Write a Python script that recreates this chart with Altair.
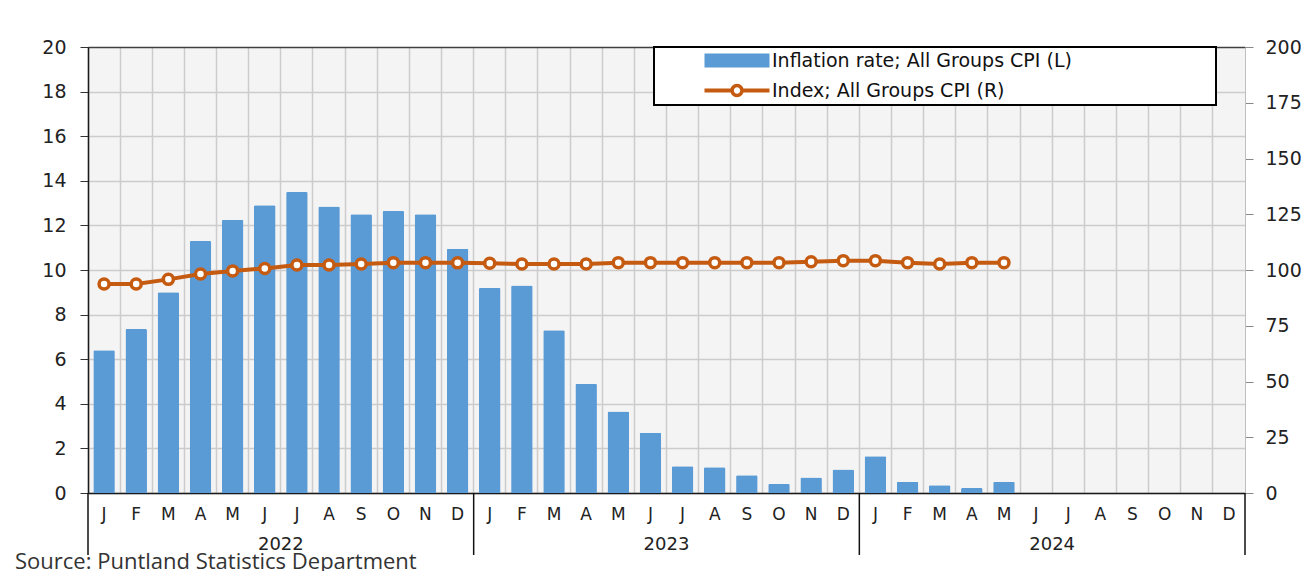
import altair as alt
import pandas as pd

# ---------------- data ----------------
years = ["2022", "2023", "2024"]
month_letters = ["J", "F", "M", "A", "M", "J", "J", "A", "S", "O", "N", "D"]

inflation_rate = [6.4, 7.35, 9.0, 11.3, 12.25, 12.9, 13.5, 12.85, 12.5, 12.65, 12.5, 10.95,
                  9.2, 9.3, 7.3, 4.9, 3.65, 2.7, 1.2, 1.15, 0.8, 0.4, 0.7, 1.05,
                  1.65, 0.5, 0.35, 0.22, 0.5]
cpi_index = [93.7, 93.7, 95.8, 98.2, 99.6, 100.7, 102.2, 102.2, 102.7, 103.3, 103.3, 103.2,
             103.0, 102.7, 102.7, 102.7, 103.3, 103.3, 103.3, 103.3, 103.3, 103.3, 103.7, 104.2,
             104.2, 103.3, 102.7, 103.3, 103.3]
series_names = ["Inflation rate; All Groups CPI (L)", "Index; All Groups CPI (R)"]
source_note = "Source: Puntland Statistics Department"
left_ticks = list(range(0, 21, 2))
right_ticks = list(range(0, 201, 25))

BLUE = "#5B9BD5"
ORANGE = "#C55A11"
FONT = "DejaVu Sans"

keys = [f"{y}-{m:02d}" for y in years for m in range(1, 13)]
bars_df = pd.DataFrame({"key": keys[:len(inflation_rate)], "rate": inflation_rate})
line_df = pd.DataFrame({"key": keys[:len(cpi_index)], "cpi": cpi_index})
legend_df = pd.DataFrame({"series": series_names})
sep_start_df = pd.DataFrame({"key": [f"{y}-01" for y in years]})
sep_end_df = pd.DataFrame({"key": [keys[-1]]})
year_lab_df = pd.DataFrame({"key": [f"{y}-07" for y in years], "year": years})

W, H = 1157, 446

month_expr = "[" + ",".join(f"'{m}'" for m in month_letters) + "][toNumber(slice(datum.value, 5)) - 1]"
month_scale = alt.Scale(domain=keys, paddingInner=0, paddingOuter=0)

# legend symbol shapes, unit = 7 px (symbolSize 196)
rect_path = "M-8.286,-1H1V1H-8.286Z"
line_path = ("M-8.286,-0.29H-4.45V0.29H-8.286Z M-2.83,-0.29H1V0.29H-2.83Z "
             "M-4.6,0A0.96,0.96 0 1,1 -2.68,0A0.96,0.96 0 1,1 -4.6,0Z "
             "M-4.09,0A0.45,0.45 0 1,0 -3.19,0A0.45,0.45 0 1,0 -4.09,0Z")
blank_pad = "\u2800" * 10  # blank glyphs that widen the legend box
legend_label_expr = "datum.label + '" + blank_pad + "'"

bars = alt.Chart(bars_df).mark_bar(
    color=BLUE, width=alt.RelativeBandSize(0.67),
    cornerRadiusTopLeft=1.5, cornerRadiusTopRight=1.5
).encode(
    x=alt.X("key:O", scale=month_scale, title=None,
            axis=alt.Axis(title=None, orient="bottom", labelExpr=month_expr, labelAngle=0,
                          grid=True, bandPosition=0, ticks=False,
                          domainColor="#1a1a1a", domainWidth=1.5, labelFontSize=17,
                          labelPadding=13)),
    y=alt.Y("rate:Q", scale=alt.Scale(domain=[0, 20], nice=False),
            axis=alt.Axis(title=None, orient="left", values=left_ticks, grid=True,
                          gridColor={"condition": {"test": "datum.value >= 20", "value": "#404040"},
                                     "value": "#CCCCCC"},
                          tickSize=8, tickColor="#333", labelPadding=14, labelFontSize=19,
                          domainColor="#1a1a1a", domainWidth=1.5)),
)

line = alt.Chart(line_df).mark_line(
    color=ORANGE, strokeWidth=4,
    point=alt.OverlayMarkDef(filled=True, fill="white", stroke=ORANGE, strokeWidth=3.5,
                             size=100, opacity=1)
).encode(
    x=alt.X("key:O", scale=month_scale, title=None),
    y=alt.Y("cpi:Q", scale=alt.Scale(domain=[0, 200], nice=False),
            axis=alt.Axis(title=None, orient="right", values=right_ticks, grid=False,
                          tickSize=8, tickColor="#888", labelPadding=12, labelFontSize=19,
                          domainColor="#BFBFBF", domainWidth=1)),
)

seps_start = alt.Chart(sep_start_df).mark_rule(color="#111111", strokeWidth=1.5).encode(
    x=alt.X("key:O", scale=month_scale, title=None, bandPosition=0),
    y=alt.value(H),
    y2=alt.value(H + 62),
)
seps_end = alt.Chart(sep_end_df).mark_rule(color="#111111", strokeWidth=1.5).encode(
    x=alt.X("key:O", scale=month_scale, title=None, bandPosition=1),
    y=alt.value(H),
    y2=alt.value(H + 62),
)

year_text = alt.Chart(year_lab_df).mark_text(
    font=FONT, fontSize=18, color="#222222", baseline="middle", align="center"
).encode(
    x=alt.X("key:O", scale=month_scale, title=None, bandPosition=0),
    y=alt.value(H + 52),
    text="year:N",
)

leg = alt.Legend(title=None, orient="none", legendX=566, legendY=0,
                 symbolSize=196, symbolStrokeWidth=0, symbolOpacity=1,
                 labelFont=FONT, labelFontSize=19, labelColor="#111",
                 labelExpr=legend_label_expr,
                 padding=4, symbolOffset=95, labelOffset=0, labelLimit=900,
                 fillColor="white", strokeColor="black", rowPadding=10)

legend_layer = alt.Chart(legend_df).mark_point(filled=True, opacity=1, strokeWidth=0).encode(
    color=alt.Color("series:N", scale=alt.Scale(domain=series_names, range=[BLUE, ORANGE]), legend=leg),
    shape=alt.Shape("series:N", scale=alt.Scale(domain=series_names, range=[rect_path, line_path]), legend=leg),
).transform_filter("false")

chart = alt.layer(bars, line, seps_start, seps_end, year_text, legend_layer).resolve_scale(
    y="independent"
).properties(
    width=W, height=H,
    autosize=alt.AutoSizeParams(type="none"),
    padding={"left": 80, "top": 39, "right": 56, "bottom": 78},
    view=alt.ViewBackground(fill="#F4F4F4", stroke="#404040", strokeWidth=1),
    title=alt.TitleParams(source_note, orient="bottom", anchor="start", frame="group",
                          font="Open Sans", fontSize=22, fontWeight="normal",
                          color="#333333", dx=-73, offset=-4),
).configure_view(
    fill="#F4F4F4", stroke="#404040", strokeWidth=1
).configure_axis(
    gridColor="#CCCCCC", gridWidth=1.5, labelFont=FONT, labelColor="#222222"
).configure_legend(
    strokeWidth=2
)

chart.save("out.html", embed_options={"renderer": "svg", "actions": False})
